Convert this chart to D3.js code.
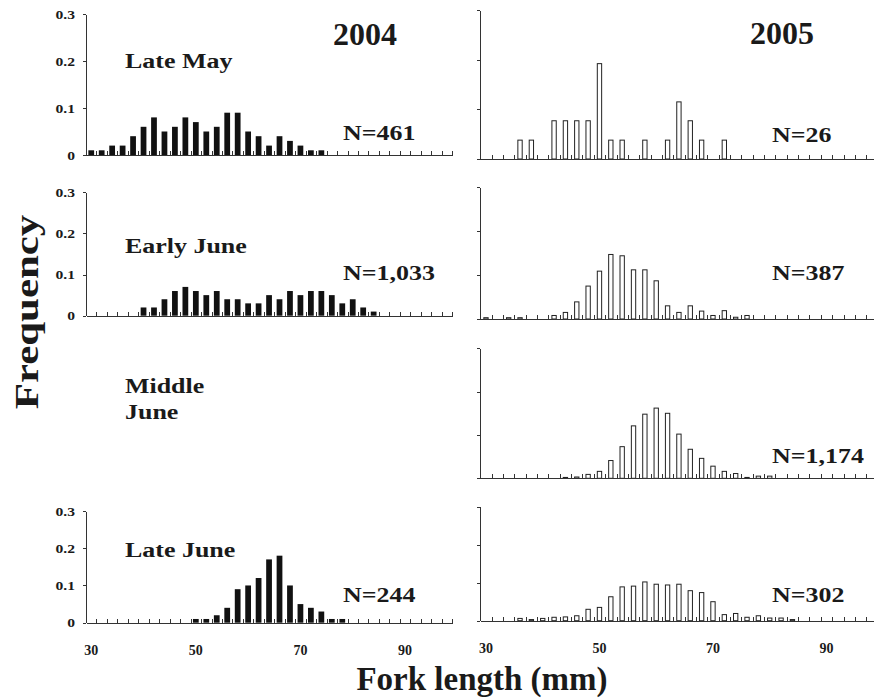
<!DOCTYPE html>
<html>
<head>
<meta charset="utf-8">
<script src="https://cdnjs.cloudflare.com/ajax/libs/d3/7.8.5/d3.min.js"></script>
<style>
body { margin: 0; background: #fff; }
svg text { font-family: "Liberation Serif", "Times New Roman", serif; font-weight: bold; fill: #1a1a1a; }
.axis path, .axis line { stroke: #333; stroke-width: 1; shape-rendering: crispEdges; }
</style>
</head>
<body>
<svg id="chart" width="874" height="698"></svg>
<script>
// fork length bins (mm), one bar per bin
const fork_lengths = [30,32,34,36,38,40,42,44,46,48,50,52,54,56,58,60,62,64,66,68,70,72,74,76,78,80,82,84,86,88,90,92,94,96,98];
const freq_ticks = [0, 0.1, 0.2, 0.3];
const length_labels = [30, 50, 70, 90];

// 2004 (filled bars)
const late_may_2004 = [0.01,0.01,0.02,0.02,0.04,0.06,0.08,0.05,0.06,0.08,0.07,0.05,0.06,0.09,0.09,0.05,0.04,0.02,0.04,0.03,0.02,0.01,0.01,0,0,0,0,0,0,0,0,0,0,0,0];
const early_june_2004 = [0,0,0,0,0,0.02,0.02,0.04,0.06,0.07,0.06,0.05,0.06,0.04,0.04,0.03,0.03,0.05,0.04,0.06,0.05,0.06,0.06,0.05,0.03,0.04,0.02,0.01,0,0,0,0,0,0,0];
const late_june_2004 = [0,0,0,0,0,0,0,0,0,0,0.01,0.01,0.02,0.04,0.09,0.10,0.12,0.17,0.18,0.10,0.05,0.04,0.03,0.01,0.01,0,0,0,0,0,0,0,0,0,0];

// 2005 (open bars)
const late_may_2005 = [0,0,0,0.038,0.038,0,0.077,0.077,0.077,0.077,0.192,0.038,0.038,0,0.038,0,0.038,0.115,0.077,0.038,0,0.038,0,0,0,0,0,0,0,0,0,0,0,0,0];
const early_june_2005 = [0.003,0,0.003,0.003,0,0,0.008,0.015,0.039,0.075,0.109,0.147,0.144,0.112,0.112,0.087,0.030,0.015,0.030,0.018,0.008,0.019,0.004,0.008,0,0,0,0,0,0,0,0,0,0,0];
const mid_june_2005 = [0,0,0,0,0,0,0,0.002,0.003,0.009,0.016,0.041,0.073,0.121,0.148,0.162,0.150,0.102,0.067,0.046,0.028,0.016,0.011,0.002,0.005,0.005,0,0,0,0,0,0,0,0,0];
const late_june_2005 = [0,0,0,0.006,0.003,0.006,0.009,0.010,0.013,0.030,0.035,0.063,0.089,0.091,0.102,0.096,0.094,0.096,0.079,0.074,0.050,0.016,0.019,0.009,0.013,0.007,0.007,0.003,0,0,0,0,0,0,0];

const period_labels = [['Late May'], ['Early June'], ['Middle', 'June'], ['Late June']];
const sample_sizes_2004 = ['N=461', 'N=1,033', null, 'N=244'];
const sample_sizes_2005 = ['N=26', 'N=387', 'N=1,174', 'N=302'];

const svg = d3.select('#chart');
const stretch = 1.18;

const left_col = {x0: 86, step: 10.46, pad: 0.45, filled: true};
const right_col = {x0: 480.3, step: 11.35, pad: 0.53, filled: false};

function addText(txt, x, y, size, sx){
    svg.append('text')
       .attr('transform', 'translate(' + x + ',' + y + ') scale(' + (sx || 1) + ',1)')
       .style('font-size', size + 'px')
       .text(txt);
}

function drawPanel(values, col, top, base, show_y_labels, show_x_labels){
    const x_end = col.x0 + col.step * fork_lengths.length;
    const x = d3.scaleBand()
                .domain(fork_lengths)
                .range([col.x0, x_end])
                .paddingInner(col.pad)
                .paddingOuter(col.pad / 2);
    const x_edge = d3.scaleLinear()
                     .domain([fork_lengths[0] - 1, fork_lengths[fork_lengths.length - 1] + 1])
                     .range([col.x0, x_end]);
    const y = d3.scaleLinear().domain([0, 0.3]).range([base, top]);

    const bins = fork_lengths.map(function(d, i){ return {len: d, freq: values[i]}; })
                             .filter(function(d){ return d.freq > 0; });

    svg.append('g')
       .selectAll('rect')
       .data(bins)
       .enter()
       .append('rect')
       .attr('x', function(d){ return col.filled ? x(d.len) : x(d.len) + 0.5; })
       .attr('width', col.filled ? x.bandwidth() : x.bandwidth() - 1)
       .attr('y', function(d){ return y(d.freq); })
       .attr('height', function(d){ return base - y(d.freq); })
       .attr('fill', col.filled ? '#111' : '#fff')
       .attr('stroke', col.filled ? 'none' : '#222')
       .attr('stroke-width', 1);

    const edges = fork_lengths.map(function(d){ return d - 1; }).concat([fork_lengths[fork_lengths.length - 1] + 1]);
    svg.append('g')
       .attr('class', 'axis')
       .attr('transform', 'translate(0,' + base + ')')
       .call(d3.axisBottom(x_edge).tickValues(edges).tickSize(-4).tickSizeOuter(0).tickFormat(''));

    const y_axis = svg.append('g')
       .attr('class', 'axis')
       .attr('transform', 'translate(' + col.x0 + ',0)')
       .call(d3.axisLeft(y).tickValues(freq_ticks).tickSize(3).tickSizeOuter(0)
               .tickFormat(function(d){ return show_y_labels ? (d === 0 ? '0' : d3.format('.1f')(d)) : ''; }));
    y_axis.selectAll('text')
          .style('font-size', '13px')
          .attr('x', -11 / 1.2)
          .attr('transform', 'scale(1.2,1)');

    if (show_x_labels) {
        const lab_axis = svg.append('g')
           .attr('transform', 'translate(0,' + base + ')')
           .call(d3.axisBottom(x).tickValues(length_labels).tickSize(0).tickPadding(22));
        lab_axis.select('.domain').remove();
        lab_axis.selectAll('text').style('font-size', '14px');
    }
}

// rows: y of 0.3 and y of 0 for each column
const rows_2004 = [{top: 14, base: 155}, {top: 192.3, base: 315.7}, null, {top: 511, base: 622.7}];
const rows_2005 = [{top: 10, base: 159}, {top: 187.3, base: 319}, {top: 348.3, base: 478.3}, {top: 506.7, base: 620.7}];
const data_2004 = [late_may_2004, early_june_2004, null, late_june_2004];
const data_2005 = [late_may_2005, early_june_2005, mid_june_2005, late_june_2005];

data_2004.forEach(function(vals, i){
    if (vals) drawPanel(vals, left_col, rows_2004[i].top, rows_2004[i].base, true, i === 3);
});
data_2005.forEach(function(vals, i){
    drawPanel(vals, right_col, rows_2005[i].top, rows_2005[i].base, false, i === 3);
});

// panel texts
const label_y = [68, 253, 393, 557];
period_labels.forEach(function(lines, i){
    lines.forEach(function(t, j){ addText(t, 125, label_y[i] + j * 26, 22, stretch); });
});
const n_y_2004 = [140, 280, null, 601.5];
const n_y_2005 = [141.5, 280, 463, 601.5];
sample_sizes_2004.forEach(function(t, i){ if (t) addText(t, 343, n_y_2004[i], 22, stretch); });
sample_sizes_2005.forEach(function(t, i){ addText(t, 772, n_y_2005[i], 22, stretch); });

addText('2004', 333, 45, 32);
addText('2005', 750, 44, 32);

svg.append('text')
   .attr('x', 482).attr('y', 690)
   .attr('text-anchor', 'middle')
   .style('font-size', '33px')
   .text('Fork length (mm)');

svg.append('text')
   .attr('transform', 'translate(38,312) rotate(-90) scale(1.3,1)')
   .attr('text-anchor', 'middle')
   .style('font-size', '33px')
   .text('Frequency');
</script>
</body>
</html>
